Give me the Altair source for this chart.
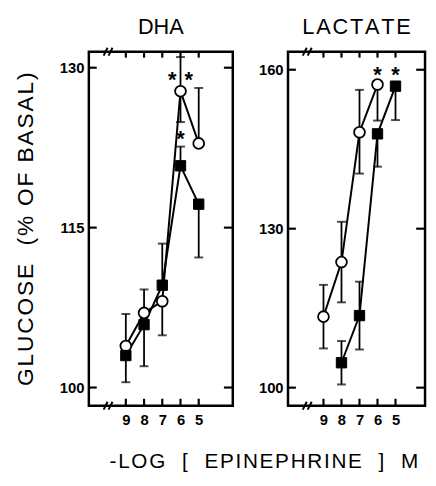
import altair as alt
import pandas as pd

FONT = "Liberation Sans"
HS = "\u200a"   # hair space, used to widen the letter spacing of titles


def spaced(text, sep):
    return sep.join(list(text))


# ---------------- data ----------------
x_ticks = [9, 8, 7, 6, 5]

# DHA panel
dha_x = [9, 8, 7, 6, 5]
dha_open = [103.9, 107.0, 108.1, 127.8, 122.9]
dha_open_up = [3.0, 2.2, 0.0, 3.2, 5.2]
dha_open_dn = [0.0, 0.0, 3.2, 2.9, 0.0]
dha_filled = [103.0, 105.9, 109.6, 120.8, 117.2]
dha_filled_up = [0.0, 0.0, 3.9, 1.8, 0.0]
dha_filled_dn = [2.5, 3.9, 0.0, 0.0, 5.0]
dha_y_ticks = [100, 115, 130]
dha_star_x = [6.45, 5.55, 6.0]
dha_star_y = [129.3, 129.3, 123.8]

# LACTATE panel
lac_open_x = [9, 8, 7, 6]
lac_open = [113.4, 123.7, 148.2, 157.2]
lac_open_up = [6.0, 7.6, 8.0, 0.0]
lac_open_dn = [6.0, 7.6, 7.8, 6.8]
lac_filled_x = [8, 7, 6, 5]
lac_filled = [104.7, 113.6, 147.9, 156.9]
lac_filled_up = [4.1, 6.4, 0.0, 0.0]
lac_filled_dn = [4.1, 6.4, 6.2, 6.4]
lac_y_ticks = [100, 130, 160]
lac_star_x = [6, 5]
lac_star_y = [159.9, 159.9]

title_left = "DHA"
title_right = "LACTATE"
y_title = "GLUCOSE  (% OF BASAL)"
x_title = "-LOG  [  EPINEPHRINE  ]  M"


def points_df(xs, ys, series):
    return pd.DataFrame({"x": xs, "y": ys, "series": series})


def err_df(xs, ys, ups, dns):
    rows = []
    for x, y, u, d in zip(xs, ys, ups, dns):
        if u > 0:
            rows.append({"x": x, "y": y, "y1": y + u})
        if d > 0:
            rows.append({"x": x, "y": y, "y1": y - d})
    return pd.DataFrame(rows)


def panel(open_df, filled_df, errs, stars, xdom, ydom, yticks, W, H, title, ytitle):
    xs = alt.Scale(domain=xdom, reverse=True, zero=False, nice=False)
    ys = alt.Scale(domain=ydom, zero=False, nice=False)
    xax = alt.Axis(values=x_ticks, tickSize=0, domain=False, grid=False,
                   labelPadding=7, labelFontSize=15, labelFontWeight="bold",
                   labelFont=FONT, labelColor="black", format="d", title=None,
                   labelFlush=False)
    yax_kw = dict(values=yticks, tickSize=0, domain=False, grid=False,
                  labelPadding=5, labelFontSize=15, labelFontWeight="bold",
                  labelFont=FONT, labelColor="black", format="d")
    if ytitle:
        yax = alt.Axis(title=ytitle, titleFont=FONT, titleFontSize=23,
                       titleFontWeight="normal", titleColor="black",
                       titlePadding=22, **yax_kw)
    else:
        yax = alt.Axis(title=None, **yax_kw)
    X = alt.X("x:Q", scale=xs, axis=xax)
    Y = alt.Y("y:Q", scale=ys, axis=yax)

    all_pts = pd.concat([open_df, filled_df])
    lines = alt.Chart(all_pts).mark_line(color="black", strokeWidth=2).encode(
        x=X, y=Y, detail="series:N")

    bars = alt.Chart(errs).mark_rule(color="black", strokeWidth=1.8).encode(
        x=X, y=Y, y2="y1:Q")
    caps = alt.Chart(errs).transform_calculate(y="datum.y1").mark_tick(
        color="black", orient="horizontal", size=9, thickness=2).encode(
        x=X, y=Y)

    circles = alt.Chart(open_df).mark_point(shape="circle", filled=True,
                                            fill="white", stroke="black",
                                            strokeWidth=1.8, size=120,
                                            opacity=1).encode(x=X, y=Y)
    squares = alt.Chart(filled_df).mark_point(shape="square", filled=True,
                                              fill="black", stroke="black",
                                              strokeWidth=1, size=110,
                                              opacity=1).encode(x=X, y=Y)
    star = alt.Chart(stars).mark_text(text="*", fontSize=22, fontWeight="bold",
                                      font=FONT, color="black",
                                      baseline="middle", dy=5).encode(x=X, y=Y)

    ytk = pd.DataFrame({"y": yticks})
    xtk = pd.DataFrame({"x": x_ticks})
    tl = alt.Chart(ytk).mark_rule(color="black", strokeWidth=2.2).encode(
        y=Y, x=alt.value(0), x2=alt.value(8))
    tr = alt.Chart(ytk).mark_rule(color="black", strokeWidth=2.2).encode(
        y=Y, x=alt.value(W - 9), x2=alt.value(W))
    tt = alt.Chart(xtk).mark_rule(color="black", strokeWidth=2.2).encode(
        x=X, y=alt.value(0), y2=alt.value(6))
    tb = alt.Chart(xtk).mark_rule(color="black", strokeWidth=2.2).encode(
        x=X, y=alt.value(H - 7), y2=alt.value(H))

    one = pd.DataFrame({"k": [0]})
    brk = []
    for y0 in (0, H):
        for dx in (15, 20):
            brk.append(alt.Chart(one).mark_rule(color="black", strokeWidth=2).encode(
                x=alt.value(dx), x2=alt.value(dx + 4),
                y=alt.value(y0 + 4), y2=alt.value(y0 - 4)))

    layers = [bars, caps, lines, circles, squares, star, tl, tr, tt, tb] + brk
    return alt.layer(*layers).properties(
        width=W, height=H,
        title=alt.TitleParams(title, font=FONT, fontSize=22, fontWeight="normal",
                              color="black", offset=8, anchor="middle"))


dha_open_df = points_df(dha_x, dha_open, "open")
dha_filled_df = points_df(dha_x, dha_filled, "filled")
dha_err = pd.concat([err_df(dha_x, dha_open, dha_open_up, dha_open_dn),
                     err_df(dha_x, dha_filled, dha_filled_up, dha_filled_dn)])
dha_stars = pd.DataFrame({"x": dha_star_x, "y": dha_star_y})

lac_open_df = points_df(lac_open_x, lac_open, "open")
lac_filled_df = points_df(lac_filled_x, lac_filled, "filled")
lac_err = pd.concat([err_df(lac_open_x, lac_open, lac_open_up, lac_open_dn),
                     err_df(lac_filled_x, lac_filled, lac_filled_up, lac_filled_dn)])
lac_stars = pd.DataFrame({"x": lac_star_x, "y": lac_star_y})

left = panel(dha_open_df, dha_filled_df, dha_err, dha_stars,
             [3.13, 11.03], [98.3, 131.5], dha_y_ticks, 146, 359, title_left,
             spaced(y_title, HS))
right = panel(lac_open_df, lac_filled_df, lac_err, lac_stars,
              [3.36, 10.97], [96.6, 163.4], lac_y_ticks, 139, 359,
              spaced(title_right, HS), None)

chart = alt.hconcat(left, right, spacing=21).resolve_scale(
    x="independent", y="independent").properties(
    title=alt.TitleParams(spaced(x_title, HS), orient="bottom",
                          anchor="middle", font=FONT, fontSize=21,
                          fontWeight="normal", color="black", offset=23, dx=44),
    padding={"left": 5, "top": 3, "right": 0, "bottom": 0},
).configure_view(stroke="black", strokeWidth=2.5)

chart.save("out.html", embed_options={"renderer": "svg", "actions": False})
